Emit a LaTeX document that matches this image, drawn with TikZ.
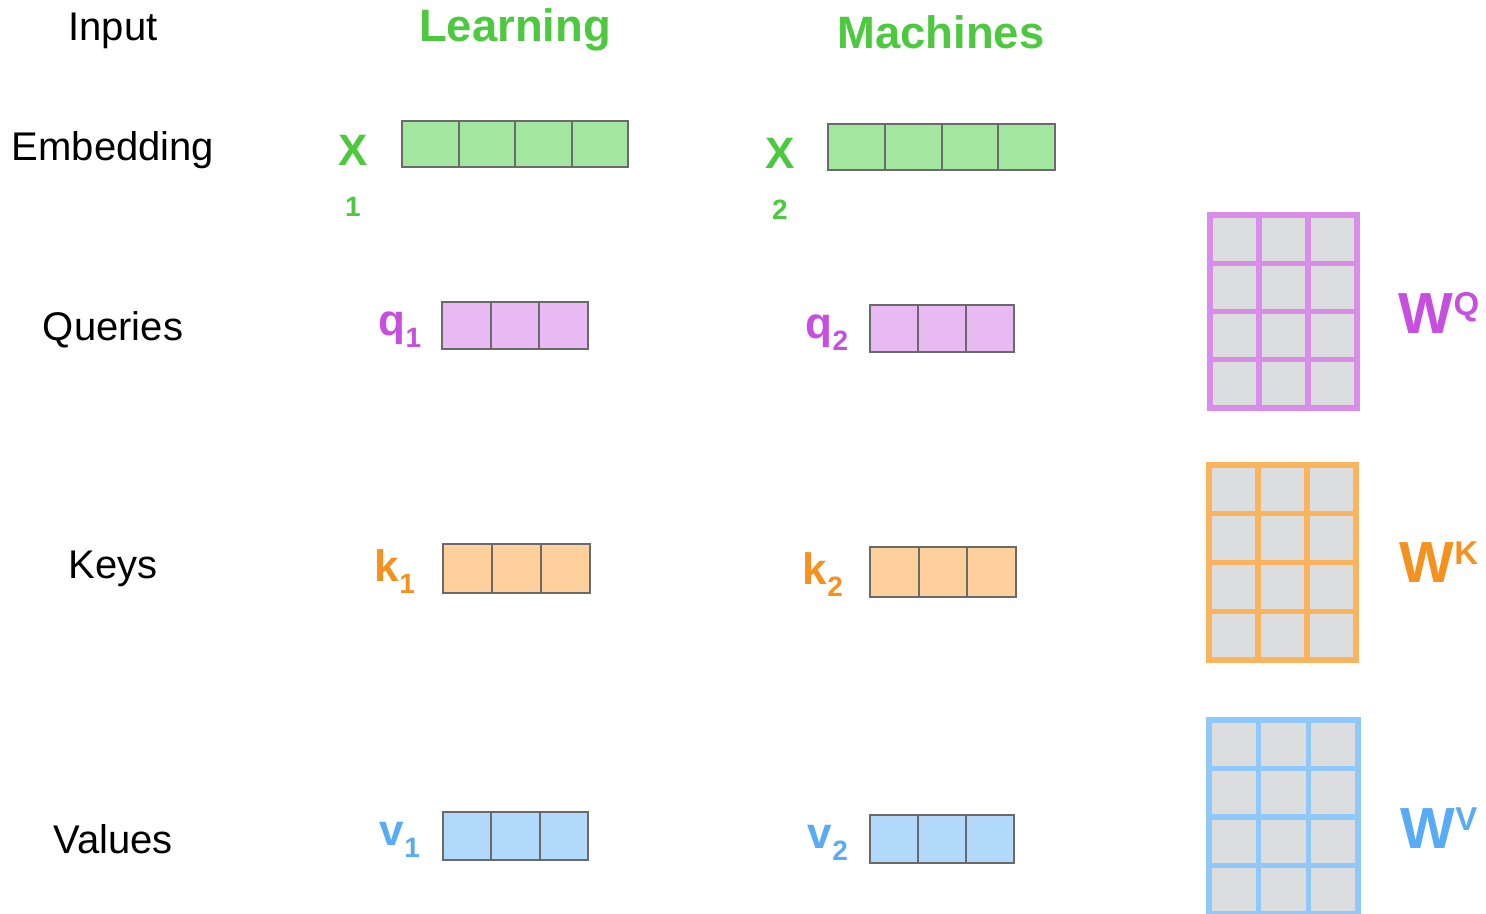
\documentclass[tikz,border=0pt]{standalone}
\usepackage{fontspec}
\setmainfont{Liberation Sans}
\definecolor{xgreen}{HTML}{4CC93F}
\definecolor{xfill}{HTML}{A3E6A0}
\definecolor{qpurple}{HTML}{C74FE0}
\definecolor{qfill}{HTML}{E8B9F3}
\definecolor{qline}{HTML}{DA8CEB}
\definecolor{korange}{HTML}{F5911E}
\definecolor{kfill}{HTML}{FFD09C}
\definecolor{kline}{HTML}{FBB45E}
\definecolor{vblue}{HTML}{58ABF5}
\definecolor{vfill}{HTML}{B4DAFB}
\definecolor{vline}{HTML}{90C8F9}
\definecolor{matgray}{HTML}{DCDDDF}
\definecolor{cellline}{HTML}{6A6A6A}
\newcommand{\subnum}[1]{\raisebox{-6pt}{\fontsize{14}{14}\selectfont #1}}
\newcommand{\supnum}[1]{\raisebox{9pt}{\fontsize{16.5}{16}\selectfont #1}}
\tikzset{
  rowlab/.style={inner sep=0pt, font=\fontsize{20}{22}\selectfont},
  wordlab/.style={inner sep=0pt, text=xgreen, font=\fontsize{22.7}{24}\selectfont\bfseries},
  veclab/.style={inner sep=0pt, font=\fontsize{22}{24}\selectfont\bfseries},
  matlab/.style={inner sep=0pt, font=\fontsize{29}{30}\selectfont\bfseries},
  cell/.style={draw=cellline, line width=1pt},
  matline/.style={line width=2.7pt}
}
\begin{document}
\begin{tikzpicture}[x=0.5pt,y=-0.5pt]
  \useasboundingbox (0,0) rectangle (1486,914);
  % row titles
  \node[rowlab] (input) at (113,31) {Input};
  \node[rowlab] (embed) at (113,150) {Embedding};
  \node[rowlab] (queries) at (113,330) {Queries};
  \node[rowlab] (keys) at (113,569) {Keys};
  \node[rowlab] (values) at (113,839) {Values};
  \node[wordlab] (learning) at (515,30) {Learning};
  \node[wordlab] (machines) at (941,32) {Machines};
  % embeddings
  \node[veclab, text=xgreen] (x1) at (353,150) {X};
  \node[veclab, text=xgreen, font=\fontsize{14}{14}\selectfont\bfseries] (x1sub) at (353,207) {1};
  \node[veclab, text=xgreen] (x2) at (780,153) {X};
  \node[veclab, text=xgreen, font=\fontsize{14}{14}\selectfont\bfseries] (x2sub) at (780,210) {2};
  \foreach \i in {0,...,3} {
    \draw[cell, fill=xfill] (402+\i*56.5,121) rectangle ++(56.5,46);
    \draw[cell, fill=xfill] (828+\i*56.75,124) rectangle ++(56.75,46);
  }
  % queries, keys, values
  \node[veclab, text=qpurple] (q1) at (400,330) {q\subnum{1}};
  \node[veclab, text=qpurple] (q2) at (827,333) {q\subnum{2}};
  \node[veclab, text=korange] (k1) at (395,572) {k\subnum{1}};
  \node[veclab, text=korange] (k2) at (823,575) {k\subnum{2}};
  \node[veclab, text=vblue] (v1) at (400,840) {v\subnum{1}};
  \node[veclab, text=vblue] (v2) at (828,843) {v\subnum{2}};
  \foreach \i in {0,1,2} {
    \draw[cell, fill=qfill] (442+\i*48.7,302) rectangle ++(48.7,47);
    \draw[cell, fill=qfill] (870+\i*48,305) rectangle ++(48,47);
    \draw[cell, fill=kfill] (443+\i*49,544) rectangle ++(49,49);
    \draw[cell, fill=kfill] (870+\i*48.7,547) rectangle ++(48.7,50);
    \draw[cell, fill=vfill] (443+\i*48.3,812) rectangle ++(48.3,48);
    \draw[cell, fill=vfill] (870+\i*48,815) rectangle ++(48,48);
  }
  % weight matrices
  \fill[matgray] (1210,215) rectangle (1357,408);
  \foreach \i in {1,2} \draw[matline, draw=qline] (1210+\i*49,215) -- ++(0,193);
  \foreach \j in {1,2,3} \draw[matline, draw=qline] (1210,215+\j*48.25) -- ++(147,0);
  \draw[matline, draw=qline] (1210,215) rectangle (1357,408);
  \fill[matgray] (1209,465) rectangle (1356,660);
  \foreach \i in {1,2} \draw[matline, draw=kline] (1209+\i*49,465) -- ++(0,195);
  \foreach \j in {1,2,3} \draw[matline, draw=kline] (1209,465+\j*48.75) -- ++(147,0);
  \draw[matline, draw=kline] (1209,465) rectangle (1356,660);
  \fill[matgray] (1209,720) rectangle (1358,914);
  \foreach \i in {1,2} \draw[matline, draw=vline] (1209+\i*49.7,720) -- ++(0,194);
  \foreach \j in {1,2,3} \draw[matline, draw=vline] (1209,720+\j*48.5) -- ++(149,0);
  \draw[matline, draw=vline] (1209,720) rectangle (1358,914);
  \node[matlab, text=qpurple] (wq) at (1439,313) {W\supnum{Q}};
  \node[matlab, text=korange] (wk) at (1439,562) {W\supnum{K}};
  \node[matlab, text=vblue] (wv) at (1439,828) {W\supnum{V}};
\end{tikzpicture}
\end{document}
